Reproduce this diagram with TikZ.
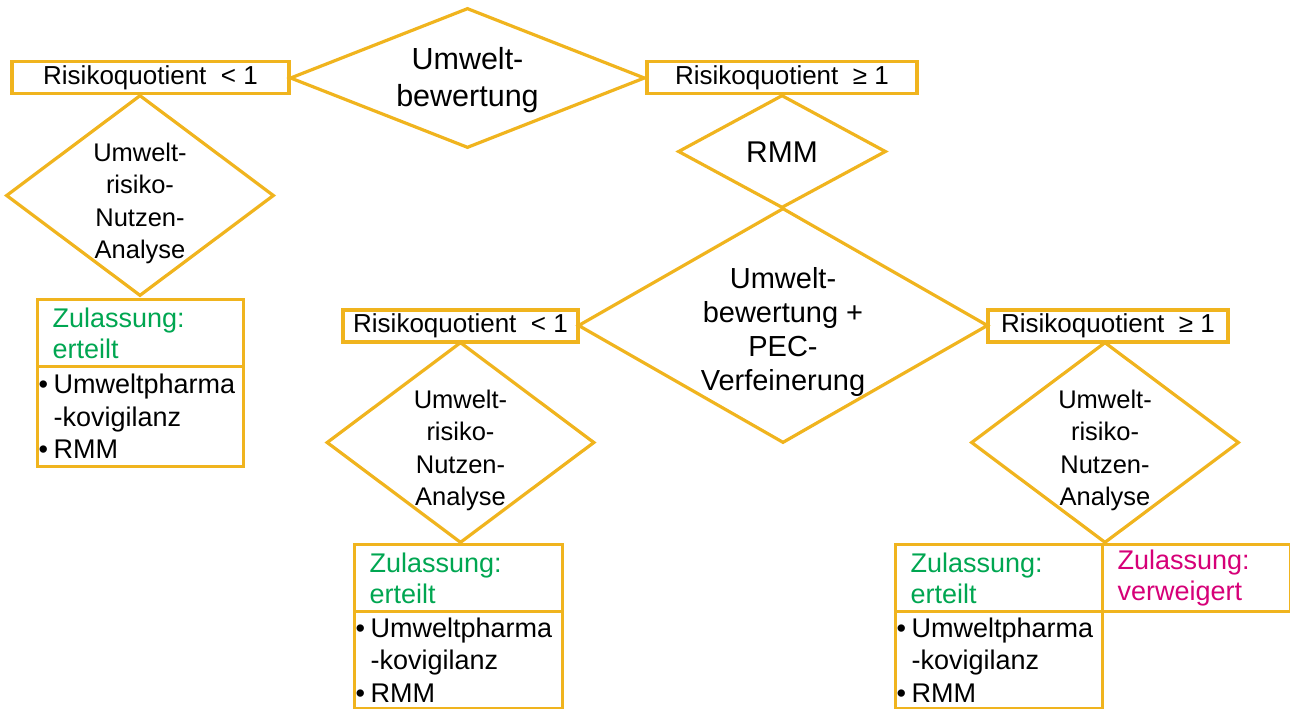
\documentclass[tikz,border=0pt]{standalone}
\usepackage{fontspec}
\setmainfont{Liberation Sans}
\usetikzlibrary{shapes.geometric}
\definecolor{gelb}{RGB}{240,180,30}
\definecolor{gruen}{RGB}{0,166,81}
\definecolor{pink}{RGB}{214,0,120}

\begin{document}
\begin{tikzpicture}[x=1pt, y=-1pt,
  rq/.style={draw=gelb, line width=3.2pt, inner sep=0pt, font=\fontsize{26}{30}\selectfont},
  raute/.style={diamond, draw=gelb, line width=3.2pt, inner sep=0pt},
  rtext/.style={align=center, yshift=-3pt},
  klein/.style={raute, minimum width=268pt, minimum height=201pt},
  ktext/.style={rtext, yshift=-5pt, font=\fontsize{25.5}{32.5}\selectfont},
  zul/.style={draw=gelb, line width=3.2pt, anchor=north west, inner xsep=15pt, inner ysep=0pt, align=left, font=\fontsize{27}{31}\selectfont},
  liste/.style={zul, inner xsep=1pt, font=\fontsize{27}{32.5}\selectfont}]

  \useasboundingbox (0,0) rectangle (1290,709);

  % Umweltbewertung oben
  \node[raute, minimum width=355pt, minimum height=140pt,
        label={[rtext, yshift=1pt, font=\fontsize{30.5}{37}\selectfont]center:{Umwelt-\\bewertung}}] (ub) at (467.5,78) {};
  \node[rq, minimum width=277pt, minimum height=32pt] (rqa) at (150.5,77.5) {Risikoquotient\ \ < 1};
  \node[rq, minimum width=270pt, minimum height=32pt] (rqb) at (782,77.5) {Risikoquotient\ \ ≥ 1};

  % linker Zweig
  \node[klein, label={[ktext]center:{Umwelt-\\risiko-\\Nutzen-\\Analyse}}] (nua) at (140,195.5) {};
  \node[zul, minimum width=206pt, minimum height=67pt, text width=176pt, text=gruen] (za) at (36,298) {Zulassung:\\erteilt};
  \node[liste, minimum width=206pt, minimum height=100pt, text width=204pt] (la) at (36,365) {\makebox[15pt][l]{\textbullet}Umweltpharma\\\hspace*{15pt}-kovigilanz\\\makebox[15pt][l]{\textbullet}RMM};

  % RMM und PEC-Verfeinerung
  \node[raute, minimum width=208pt, minimum height=113pt,
        label={[rtext, yshift=2pt, font=\fontsize{30}{36}\selectfont]center:RMM}] (rmm) at (782,151.5) {};
  \node[raute, minimum width=410pt, minimum height=235pt,
        label={[rtext, yshift=-3pt, font=\fontsize{29}{34}\selectfont]center:{Umwelt-\\bewertung +\\PEC-\\Verfeinerung}}] (pec) at (783,325.5) {};
  \node[rq, minimum width=235pt, minimum height=32pt] (rqc) at (460.5,326) {Risikoquotient\ \ < 1};
  \node[rq, minimum width=240pt, minimum height=32pt] (rqd) at (1108,326) {Risikoquotient\ \ ≥ 1};

  % mittlerer Zweig
  \node[klein, label={[ktext]center:{Umwelt-\\risiko-\\Nutzen-\\Analyse}}] (nub) at (460.5,442.5) {};
  \node[zul, minimum width=208pt, minimum height=67pt, text width=178pt, text=gruen] (zb) at (353,543) {Zulassung:\\erteilt};
  \node[liste, minimum width=208pt, minimum height=97pt, text width=206pt] (lb) at (353,610) {\makebox[15pt][l]{\textbullet}Umweltpharma\\\hspace*{15pt}-kovigilanz\\\makebox[15pt][l]{\textbullet}RMM};

  % rechter Zweig
  \node[klein, label={[ktext]center:{Umwelt-\\risiko-\\Nutzen-\\Analyse}}] (nuc) at (1105,442.5) {};
  \node[zul, minimum width=207pt, minimum height=67pt, text width=177pt, text=gruen] (zc) at (894,543) {Zulassung:\\erteilt};
  \node[zul, minimum width=188pt, minimum height=67pt, text width=158pt, text=pink] (zv) at (1101,543) {Zulassung:\\verweigert};
  \node[liste, minimum width=207pt, minimum height=97pt, text width=205pt] (lc) at (894,610) {\makebox[15pt][l]{\textbullet}Umweltpharma\\\hspace*{15pt}-kovigilanz\\\makebox[15pt][l]{\textbullet}RMM};

\end{tikzpicture}
\end{document}
